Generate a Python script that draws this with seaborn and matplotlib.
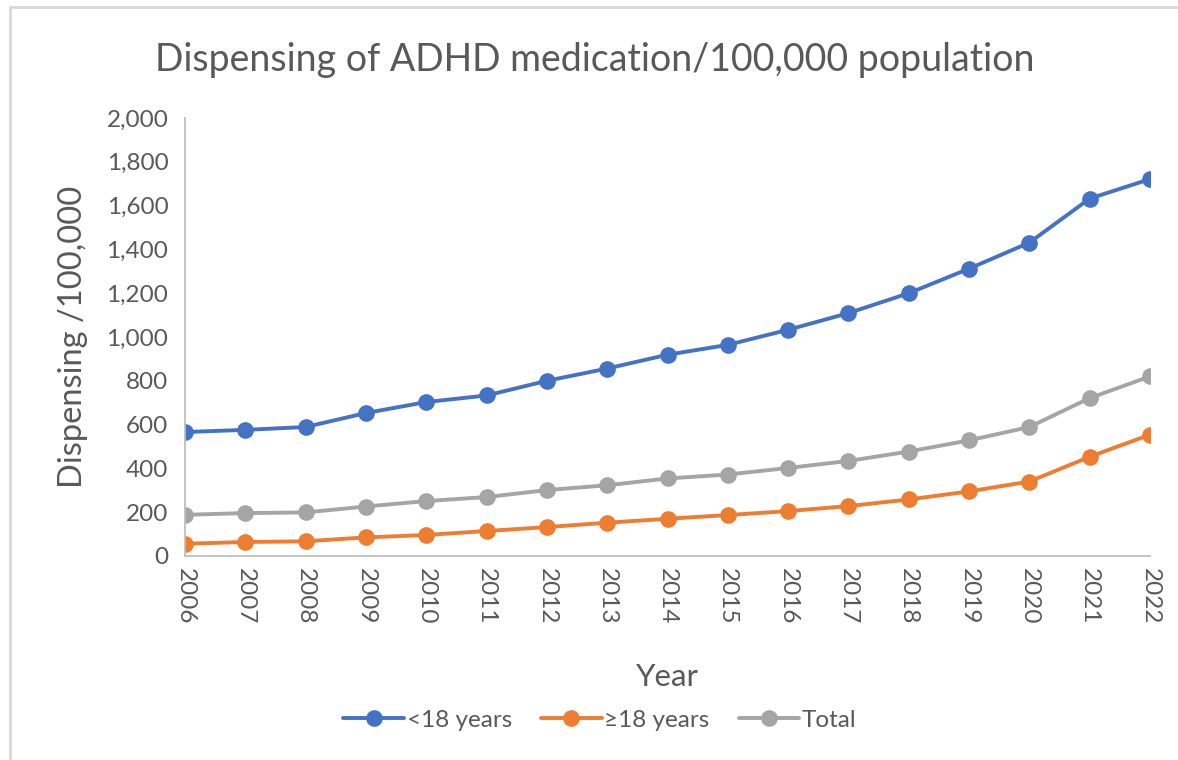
import pandas as pd
import numpy as np
import seaborn as sns
import matplotlib.pyplot as plt
from matplotlib.lines import Line2D

# values
years = list(range(2006, 2023))
under_18 = [566, 576, 589, 653, 703, 733, 800, 856, 919, 964, 1033, 1109, 1200, 1312, 1431, 1632, 1721]
over_18 = [56, 64, 67, 85, 96, 114, 132, 152, 170, 187, 205, 228, 258, 295, 340, 453, 554]
total = [188, 196, 199, 226, 251, 269, 301, 323, 354, 372, 402, 434, 477, 528, 589, 721, 820]
series_names = ['<18 years', '≥18 years', 'Total']
colors = ['#4472C4', '#ED7D31', '#A5A5A5']

df = pd.DataFrame({
    'Year': years * 3,
    'Value': under_18 + over_18 + total,
    'Group': [series_names[0]] * len(years) + [series_names[1]] * len(years) + [series_names[2]] * len(years),
})

sns.set_style('white')
plt.rcParams['font.family'] = ['Lato', 'DejaVu Sans']
text_col = '#595959'
axis_col = '#BFBFBF'

fig = plt.figure(figsize=(11.78, 7.6), dpi=100)
ax = fig.add_axes([185 / 1178, 204 / 760, 965 / 1178, 438 / 760])

sns.lineplot(data=df, x='Year', y='Value', hue='Group', hue_order=series_names,
             palette=colors, marker='o', markersize=12, markeredgewidth=0,
             linewidth=2.8, ax=ax, legend=False)

ax.set_xlim(2006, 2022)
ax.set_ylim(0, 2000)
ax.set_xticks(years)
ax.set_xticklabels([str(y) for y in years], rotation=-90)
ax.set_yticks(range(0, 2001, 200))
ax.set_yticklabels([f'{v:,}' for v in range(0, 2001, 200)])
ax.tick_params(axis='both', colors=axis_col, labelcolor=text_col, labelsize=17.5,
               length=6, width=1.2, direction='out')
ax.tick_params(axis='x', pad=3)
ax.tick_params(axis='y', pad=6)
for side in ['top', 'right']:
    ax.spines[side].set_visible(False)
for side in ['left', 'bottom']:
    ax.spines[side].set_color(axis_col)
    ax.spines[side].set_linewidth(1.3)

ax.set_xlabel('Year', fontsize=22.5, color=text_col, labelpad=27)
ax.set_ylabel('Dispensing /100,000', fontsize=23.5, color=text_col, labelpad=13)
fig.text(595 / 1178, 1 - 60 / 760, 'Dispensing of ADHD medication/100,000 population',
         ha='center', va='center', fontsize=27, color=text_col)

handles = [Line2D([], [], color=c, linewidth=2.8, marker='o', markersize=12, markeredgewidth=0)
           for c in colors]
fig.legend(handles, series_names, loc='center', bbox_to_anchor=(600 / 1178, 1 - 720 / 760),
           ncol=3, frameon=False, fontsize=17.5, labelcolor=text_col, handlelength=2.5,
           handletextpad=0.1, columnspacing=1.2)

# thin chart-area border (left and top edges visible in the reference)
fig.add_artist(Line2D([10 / 1178, 10 / 1178], [0, 1 - 7 / 760], color='#D9D9D9', linewidth=2))
fig.add_artist(Line2D([10 / 1178, 1], [1 - 7 / 760, 1 - 7 / 760], color='#D9D9D9', linewidth=2))

fig.savefig('out.png', dpi=100, facecolor='white')
